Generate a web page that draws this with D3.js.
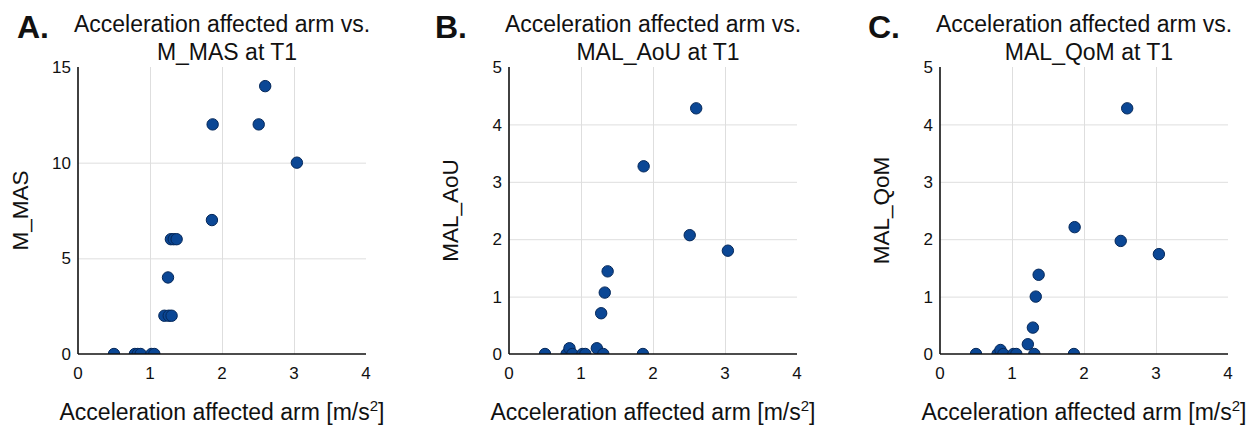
<!DOCTYPE html>
<html>
<head>
<meta charset="utf-8">
<script src="https://cdn.jsdelivr.net/npm/d3@7"></script>
<style>
    body { margin: 0; background: #fff; }
    svg text { font-family: "Liberation Sans", Arial, sans-serif; fill: #111; }
    .grid line { stroke: #dedede; stroke-width: 1; }
    .grid path { display: none; }
    .axisLine { stroke: #111; stroke-width: 1.6; }
</style>
</head>
<body>
<div id="viz"></div>
<script>
// panel A: M_MAS
var xA = [0.50, 0.79, 0.83, 0.87, 1.02, 1.06, 1.20, 1.26, 1.30, 1.25, 1.29, 1.33, 1.37, 1.86, 1.87, 2.51, 2.60, 3.04];
var yA = [0, 0, 0, 0, 0, 0, 2, 2, 2, 4, 6, 6, 6, 7, 12, 12, 14, 10];

// panel B: MAL_AoU
var xB = [0.50, 0.80, 0.84, 0.88, 1.02, 1.06, 1.22, 1.31, 1.86, 1.28, 1.33, 1.37, 1.87, 2.51, 2.60, 3.04];
var yB = [0, 0, 0.10, 0, 0, 0, 0.10, 0, 0, 0.71, 1.07, 1.44, 3.27, 2.07, 4.28, 1.80];

// panel C: MAL_QoM
var xC = [0.50, 0.80, 0.84, 0.88, 1.02, 1.06, 1.22, 1.31, 1.86, 1.29, 1.33, 1.37, 1.87, 2.51, 2.60, 3.04];
var yC = [0, 0, 0.07, 0, 0, 0, 0.17, 0, 0, 0.46, 1.00, 1.38, 2.21, 1.97, 4.28, 1.74];

var letters = ["A.", "B.", "C."];
var titles2 = ["M_MAS at T1", "MAL_AoU at T1", "MAL_QoM at T1"];
var yLabels = ["M_MAS", "MAL_AoU", "MAL_QoM"];
var yMaxes = [15, 5, 5];
var yTickVals = [[0, 5, 10, 15], [0, 1, 2, 3, 4, 5], [0, 1, 2, 3, 4, 5]];
var xTickVals = [0, 1, 2, 3, 4];

var panels = [
    { x: xA, y: yA, left: 78, ylX: -50, letX: -61 },
    { x: xB, y: yB, left: 509, ylX: -51, letX: -74 },
    { x: xC, y: yC, left: 940, ylX: -51, letX: -72 }
];

var svgW = 1254, svgH = 429;
var plotTop = 67, plotBottom = 354, plotW = 288;

var svg = d3.select('#viz').append('svg')
    .attr('width', svgW)
    .attr('height', svgH);

panels.forEach(function(p, i) {
    var h = plotBottom - plotTop;
    var x = d3.scaleLinear().domain([0, 4]).range([0, plotW]);
    var y = d3.scaleLinear().domain([0, yMaxes[i]]).range([h, 0]);

    var g = svg.append('g')
        .attr('transform', 'translate(' + p.left + ',' + plotTop + ')');

    // gridlines (skip the outer ones)
    g.append('g')
        .attr('class', 'grid')
        .call(d3.axisLeft(y)
            .tickValues(yTickVals[i].slice(1, -1))
            .tickSize(-plotW)
            .tickFormat(''));
    g.append('g')
        .attr('class', 'grid')
        .attr('transform', 'translate(0,' + h + ')')
        .call(d3.axisBottom(x)
            .tickValues([1, 2, 3])
            .tickSize(-h)
            .tickFormat(''));

    // tick labels
    g.append('g').selectAll('text')
        .data(yTickVals[i]).enter()
        .append('text')
        .attr('x', -7)
        .attr('y', function(d) { return y(d); })
        .attr('dy', '0.36em')
        .attr('text-anchor', 'end')
        .style('font-size', '17px')
        .text(function(d) { return d; });
    g.append('g').selectAll('text')
        .data(xTickVals).enter()
        .append('text')
        .attr('x', function(d) { return x(d); })
        .attr('y', h + 25)
        .attr('text-anchor', 'middle')
        .style('font-size', '17px')
        .text(function(d) { return d; });

    // points, clipped to the plot area
    g.append('clipPath')
        .attr('id', 'clip' + i)
        .append('rect')
        .attr('x', -10).attr('y', -10)
        .attr('width', plotW + 20).attr('height', h + 10);

    var records = p.x.map(function(v, j) { return { x: v, y: p.y[j] }; });
    g.append('g')
        .attr('clip-path', 'url(#clip' + i + ')')
        .selectAll('circle')
        .data(records).enter()
        .append('circle')
        .attr('r', 5.7)
        .attr('cx', function(d) { return x(d.x); })
        .attr('cy', function(d) { return y(d.y); })
        .attr('fill', '#0b4795')
        .attr('stroke', '#05285a')
        .attr('stroke-width', 1);

    // axis lines
    g.append('line').attr('class', 'axisLine')
        .attr('x1', 0).attr('x2', 0).attr('y1', 0).attr('y2', h);
    g.append('line').attr('class', 'axisLine')
        .attr('x1', 0).attr('x2', plotW).attr('y1', h).attr('y2', h);

    // titles
    var cx = plotW / 2;
    g.append('text')
        .attr('x', cx).attr('y', -35)
        .attr('text-anchor', 'middle')
        .style('font-size', '23px')
        .text('Acceleration affected arm vs.');
    g.append('text')
        .attr('x', cx + 5).attr('y', -7)
        .attr('text-anchor', 'middle')
        .style('font-size', '23px')
        .text(titles2[i]);
    g.append('text')
        .attr('x', p.letX).attr('y', -29)
        .style('font-size', '32px')
        .style('font-weight', 'bold')
        .text(letters[i]);

    // axis labels
    var xl = g.append('text')
        .attr('x', cx).attr('y', h + 66)
        .attr('text-anchor', 'middle')
        .style('font-size', '23px')
        .text('Acceleration affected arm [m/s');
    xl.append('tspan').attr('dy', -9).style('font-size', '15px').text('2');
    xl.append('tspan').attr('dy', 9).text(']');

    g.append('text')
        .attr('transform', 'translate(' + p.ylX + ',' + (h / 2) + ') rotate(-90)')
        .attr('text-anchor', 'middle')
        .style('font-size', '22.5px')
        .text(yLabels[i]);
});
</script>
</body>
</html>
